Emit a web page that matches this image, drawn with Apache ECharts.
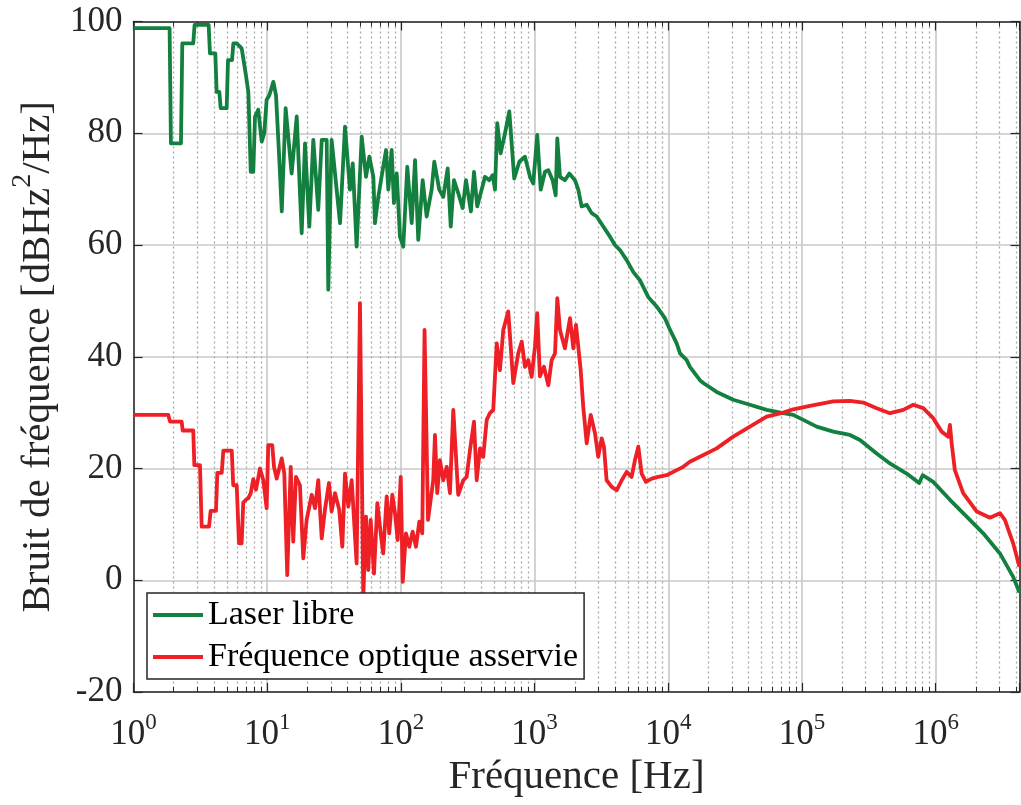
<!DOCTYPE html>
<html>
<head>
<meta charset="utf-8">
<script src="https://cdn.jsdelivr.net/npm/echarts@6/dist/echarts.min.js"></script>
<style>
html,body{margin:0;padding:0;background:#fff;}
#chart{width:1021px;height:805px;}
</style>
</head>
<body>
<div id="chart"></div>
<script>
// Frequencies are stored as decades (log10 of Hz), levels in dBHz^2/Hz
const logFreqLaserLibre = [0,0.27,0.28,0.355,0.365,0.447,0.457,0.562,0.572,0.612,0.622,0.642,0.652,0.697,0.707,0.737,0.747,0.772,0.809,0.841,0.859,0.877,0.896,0.909,0.933,0.959,0.978,0.996,1.016,1.046,1.066,1.091,1.109,1.138,1.183,1.221,1.258,1.283,1.315,1.345,1.382,1.408,1.445,1.457,1.482,1.545,1.582,1.619,1.640,1.669,1.707,1.739,1.764,1.794,1.806,1.831,1.868,1.889,1.906,1.931,1.948,1.969,1.993,2.018,2.048,2.081,2.106,2.130,2.163,2.193,2.230,2.250,2.287,2.317,2.350,2.373,2.397,2.429,2.462,2.487,2.524,2.547,2.571,2.604,2.629,2.661,2.687,2.704,2.721,2.746,2.779,2.811,2.848,2.886,2.928,2.966,2.990,3.020,3.046,3.078,3.103,3.135,3.158,3.170,3.190,3.227,3.260,3.302,3.327,3.352,3.390,3.427,3.465,3.514,3.564,3.601,3.639,3.689,3.738,3.788,3.850,3.913,3.975,4.008,4.063,4.088,4.138,4.162,4.237,4.262,4.362,4.486,4.611,4.736,4.860,4.935,5.010,5.110,5.234,5.359,5.434,5.559,5.658,5.783,5.877,5.903,5.982,6.107,6.232,6.356,6.481,6.580,6.627];
const levelLaserLibre = [98.8,98.8,78.2,78.2,96.1,96.1,99.4,99.4,94.3,94.3,87.4,87.4,84.5,84.5,93.1,93.1,96.1,96.1,95.2,90.4,87.4,73.1,73.1,83.0,84.2,78.5,80.0,86.0,86.8,89.2,86.8,75.2,66.0,84.5,72.8,83.0,62.1,78.2,63.3,78.8,66.3,78.8,78.8,52.0,78.8,63.9,81.2,69.9,74.6,59.7,79.4,72.2,75.8,72.2,63.9,68.6,74.0,77.0,69.9,77.0,67.5,72.8,61.5,59.7,74.0,63.9,75.2,60.9,71.6,65.1,69.9,74.9,69.9,68.6,73.7,63.3,71.6,69.3,66.6,71.6,66.0,73.1,66.9,69.9,72.2,71.6,72.5,69.9,81.8,76.4,80.0,83.9,71.9,74.9,75.8,72.2,71.0,79.7,69.9,73.1,73.4,71.6,68.9,79.1,72.2,71.6,72.8,71.6,69.9,66.9,67.2,65.7,65.1,63.3,61.5,60.0,59.1,57.3,55.2,53.7,50.7,49.0,46.9,45.1,42.4,40.6,39.4,38.2,35.8,35.3,33.7,32.3,31.4,30.5,29.9,29.6,28.7,27.5,26.6,26.0,25.1,22.7,20.9,19.1,17.4,18.8,17.6,14.4,11.4,8.4,4.8,0.6,-2.2];

const logFreqAsservie = [0,0.26,0.273,0.36,0.368,0.447,0.455,0.497,0.510,0.565,0.577,0.617,0.627,0.660,0.672,0.735,0.746,0.772,0.789,0.809,0.821,0.841,0.859,0.877,0.896,0.916,0.946,0.971,0.996,1.008,1.038,1.051,1.071,1.109,1.128,1.150,1.176,1.195,1.215,1.245,1.270,1.295,1.333,1.358,1.382,1.408,1.432,1.462,1.482,1.507,1.539,1.562,1.582,1.607,1.632,1.669,1.694,1.719,1.739,1.756,1.774,1.799,1.824,1.849,1.868,1.894,1.913,1.936,1.956,1.976,1.999,2.014,2.038,2.063,2.088,2.113,2.138,2.160,2.177,2.203,2.242,2.255,2.272,2.292,2.317,2.343,2.367,2.392,2.429,2.467,2.492,2.517,2.547,2.567,2.592,2.616,2.642,2.666,2.691,2.717,2.741,2.766,2.803,2.841,2.878,2.904,2.928,2.953,2.978,3.003,3.020,3.040,3.070,3.103,3.128,3.153,3.170,3.190,3.227,3.265,3.290,3.310,3.327,3.345,3.364,3.390,3.420,3.452,3.476,3.502,3.519,3.539,3.577,3.614,3.652,3.689,3.726,3.751,3.776,3.801,3.833,3.876,3.925,3.988,4.063,4.112,4.162,4.237,4.362,4.486,4.611,4.736,4.860,4.935,5.060,5.234,5.359,5.459,5.559,5.658,5.758,5.833,5.907,5.982,6.045,6.094,6.107,6.120,6.144,6.206,6.308,6.406,6.481,6.518,6.580,6.627];
const levelAsservie = [29.6,29.6,28.4,28.4,26.8,26.8,20.6,20.6,9.6,9.6,12.4,12.4,19.2,19.2,23.2,23.2,17.0,17.0,6.6,6.6,13.9,14.4,14.7,15.6,18.1,16.2,20.0,17.9,12.9,24.2,24.2,20.3,18.2,21.8,19.1,0.9,20.3,6.9,18.5,17.0,3.9,10.8,15.3,12.9,17.9,7.5,12.6,17.4,12.3,15.6,12.6,6.0,19.1,13.2,17.9,3.0,49.6,-3.0,11.4,1.8,10.8,1.2,13.8,8.4,4.8,15.0,8.4,15.3,12.0,7.2,18.5,-0.3,8.4,6.0,8.7,6.0,10.5,8.4,44.8,10.8,17.9,26.0,15.6,21.5,17.9,20.3,15.6,30.5,15.3,17.9,18.5,23.3,28.4,17.9,23.6,22.1,28.7,29.9,30.5,42.4,37.6,44.8,48.1,35.3,40.6,42.7,38.2,39.4,36.4,41.8,47.8,36.5,38.2,34.9,39.4,40.6,50.5,44.8,41.5,46.9,41.5,45.7,41.8,37.6,31.1,24.5,29.6,26.3,22.1,25.4,23.9,17.9,16.7,16.1,17.9,19.4,18.5,21.5,23.9,19.1,17.6,18.2,18.5,18.8,19.7,20.3,21.2,22.1,23.6,25.7,27.5,29.3,30.0,30.6,31.2,32.0,32.1,31.8,30.8,29.9,30.5,31.4,30.8,29.0,26.6,25.7,27.8,24.5,19.7,15.6,12.3,11.2,12.0,10.8,6.6,2.4];

const seriesNames = ['Laser libre', 'Fréquence optique asservie'];
const xMin = 1, xMax = 4.24e6;
const yMin = -20, yMax = 100, yStep = 20;
const xTitle = 'Fréquence [Hz]';

const FONT = '"Liberation Serif", "Times New Roman", serif';
const INK = '#262626';

const toPairs = (lf, lv) => lf.map((e, i) => [Math.pow(10, e), lv[i]]);

// minor log ticks 2..9 x 10^n inside the range
const minorTicks = [];
for (let n = 0; n <= 6; n++) for (let k = 2; k <= 9; k++) {
  const v = k * Math.pow(10, n);
  if (v < xMax) minorTicks.push(v);
}

const chart = echarts.init(document.getElementById('chart'), null, {renderer: 'canvas'});

const majorLabel = (v) => {
  const e = Math.log10(v);
  const r = Math.round(e);
  if (Math.abs(e - r) > 1e-6) return '';
  return '{b|10}{s|' + r + '}';
};

const baseX = {
  type: 'log', logBase: 10, min: xMin, max: xMax, splitNumber: 7,
};

chart.setOption({
  animation: false,
  backgroundColor: '#fff',
  grid: {left: 133.5, right: 1.5, top: 21.5, bottom: 113, containLabel: false, outerBoundsMode: 'none'},
  legend: {
    orient: 'vertical', left: 147, top: 593,
    padding: [4, 6, 4, 6], itemGap: 6, itemWidth: 50, itemHeight: 4, icon: 'rect',
    borderColor: INK, borderWidth: 1.5, backgroundColor: '#fff',
    textStyle: {fontFamily: FONT, fontSize: 34, color: '#000', lineHeight: 36},
    data: seriesNames
  },
  xAxis: [
    Object.assign({}, baseX, {
      position: 'bottom',
      name: xTitle, nameLocation: 'middle', nameGap: 58,
      nameTextStyle: {fontFamily: FONT, fontSize: 41, color: INK},
      axisLine: {show: true, onZero: false, lineStyle: {color: INK, width: 1.5}},
      axisTick: {show: true, inside: true, length: 9, lineStyle: {color: INK, width: 1.2}},
      axisLabel: {
        show: true, margin: 19, formatter: majorLabel, color: INK,
        rich: {
          b: {fontFamily: FONT, fontSize: 35, lineHeight: 47, color: INK},
          s: {fontFamily: FONT, fontSize: 23, lineHeight: 23, verticalAlign: 'top', color: INK}
        }
      },
      splitLine: {show: true, lineStyle: {color: '#c8c8c8', width: 1.6}},
      minorTick: {show: false}
    }),
    Object.assign({}, baseX, {
      position: 'bottom',
      axisLine: {show: false, onZero: false},
      axisLabel: {show: false},
      axisTick: {show: true, inside: true, length: 5, customValues: minorTicks, lineStyle: {color: INK, width: 1}},
      splitLine: {show: true, lineStyle: {color: '#a8a8a8', width: 1.3, type: [2, 3]}}
    }),
    Object.assign({}, baseX, {
      position: 'top',
      axisLine: {show: true, onZero: false, lineStyle: {color: INK, width: 1.5}},
      axisLabel: {show: false},
      axisTick: {show: true, inside: true, length: 9, lineStyle: {color: INK, width: 1.2}},
      splitLine: {show: false}
    }),
    Object.assign({}, baseX, {
      position: 'top',
      axisLine: {show: false, onZero: false},
      axisLabel: {show: false},
      axisTick: {show: true, inside: true, length: 5, customValues: minorTicks, lineStyle: {color: INK, width: 1}},
      splitLine: {show: false}
    })
  ],
  yAxis: [
    {
      type: 'value', position: 'left', min: yMin, max: yMax, interval: yStep,
      name: '{n|Bruit de fréquence [dBHz}{s|2}{n|/Hz]}',
      nameLocation: 'middle', nameGap: 63, nameRotate: 90,
      nameTextStyle: {
        color: INK,
        rich: {
          n: {fontFamily: FONT, fontSize: 41, lineHeight: 60, color: INK},
          s: {fontFamily: FONT, fontSize: 28, lineHeight: 28, verticalAlign: 'top', color: INK}
        }
      },
      axisLine: {show: true, onZero: false, lineStyle: {color: INK, width: 1.5}},
      axisTick: {show: true, inside: true, length: 9, lineStyle: {color: INK, width: 1.2}},
      axisLabel: {show: true, margin: 11, fontFamily: FONT, fontSize: 35, color: INK},
      splitLine: {show: true, lineStyle: {color: '#c8c8c8', width: 1.6}}
    },
    {
      type: 'value', position: 'right', min: yMin, max: yMax, interval: yStep,
      axisLine: {show: true, onZero: false, lineStyle: {color: INK, width: 1.5}},
      axisTick: {show: true, inside: true, length: 9, lineStyle: {color: INK, width: 1.2}},
      axisLabel: {show: false},
      splitLine: {show: false}
    }
  ],
  series: [
    {
      name: seriesNames[0], type: 'line', xAxisIndex: 0, yAxisIndex: 0,
      data: toPairs(logFreqLaserLibre, levelLaserLibre),
      showSymbol: false, symbol: 'none', color: '#13803F',
      lineStyle: {width: 3.8, color: '#13803F', join: 'round'}
    },
    {
      name: seriesNames[1], type: 'line', xAxisIndex: 0, yAxisIndex: 0,
      data: toPairs(logFreqAsservie, levelAsservie),
      showSymbol: false, symbol: 'none', color: '#EE1F25',
      lineStyle: {width: 3.8, color: '#EE1F25', join: 'round'}
    }
  ]
});
</script>
</body>
</html>
